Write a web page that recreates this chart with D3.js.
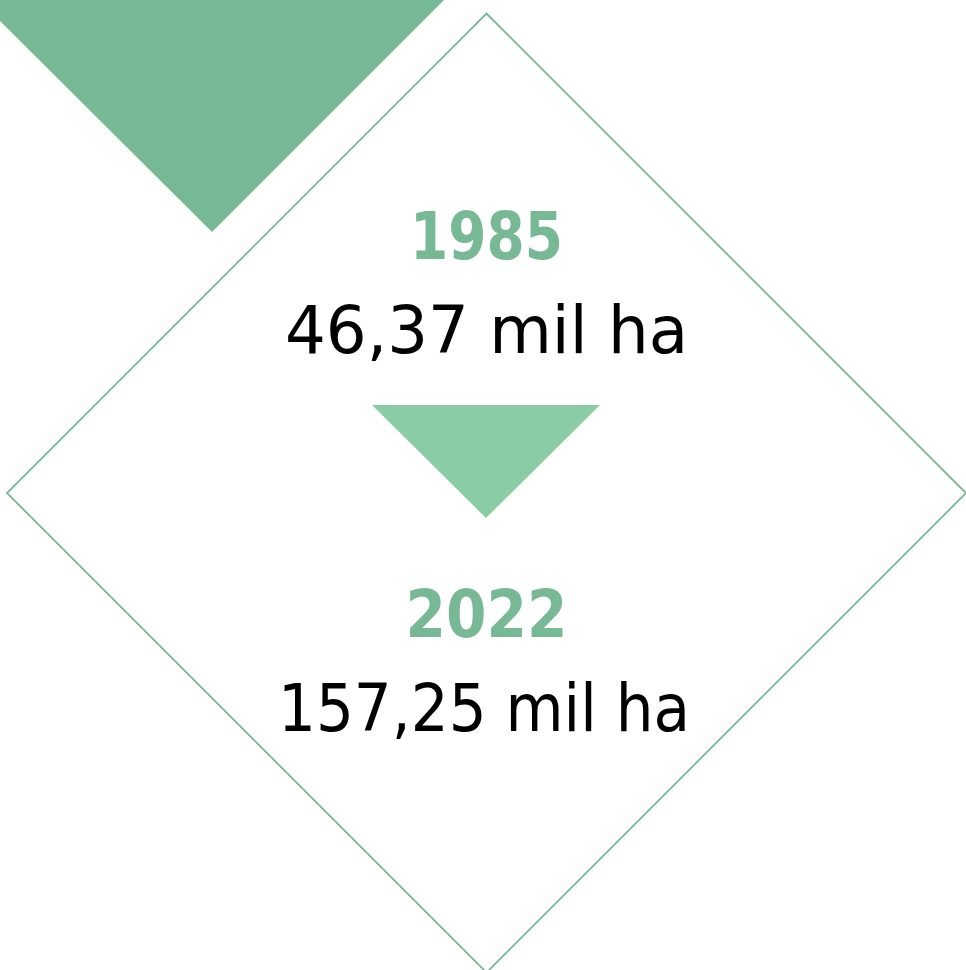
<!DOCTYPE html>
<html>
<head>
<meta charset="utf-8">
<script src="https://cdn.jsdelivr.net/npm/d3@7"></script>
<style>
  html, body { margin: 0; padding: 0; background: #fff; }
  svg { display: block; }
</style>
</head>
<body>
<div id="chart"></div>
<script>
// data
const years = ["1985", "2022"];
const areas = ["46,37", "157,25"];
const unit = "mil ha";

const W = 966, H = 970;
const GREEN = "#78b995";
const LIGHT_GREEN = "#8acca4";
// rendered widths in the original (Montserrat) so DejaVu gets fitted to them
const yearWidth = [153, 162];
const areaWidth = [403, 412];

const svg = d3.select("#chart")
    .append("svg")
    .attr("width", W)
    .attr("height", H);

// diamond outline
const cx = 486.5, cy = 493, r = 479.5;
svg.append("path")
    .attr("d", `M${cx},${cy - r}L${cx + r},${cy}L${cx},${cy + r}L${cx - r},${cy}Z`)
    .attr("fill", "none")
    .attr("stroke", GREEN)
    .attr("stroke-width", 1.8);

// big triangle top-left
svg.append("path")
    .attr("d", "M-22,-1L445,-1L212,232Z")
    .attr("fill", GREEN);

// arrow between the two years
svg.append("path")
    .attr("d", "M372,405L600,405L486,518Z")
    .attr("fill", LIGHT_GREEN);

// rows
const rowY = d3.scalePoint().domain(years).range([259, 637]);

const rows = svg.selectAll("g.row")
    .data(years.map((y, i) => ({ year: y, area: areas[i], i: i })))
    .enter()
    .append("g")
    .attr("class", "row")
    .attr("transform", d => `translate(${cx},${rowY(d.year)})`);

rows.append("text")
    .attr("text-anchor", "middle")
    .attr("font-family", "'DejaVu Sans', sans-serif")
    .attr("font-weight", "bold")
    .attr("font-size", 65)
    .attr("fill", GREEN)
    .attr("textLength", d => yearWidth[d.i])
    .attr("lengthAdjust", "spacingAndGlyphs")
    .text(d => d.year);

rows.append("text")
    .attr("text-anchor", "middle")
    .attr("x", d => (d.i ? -2.5 : 0))
    .attr("y", 94)
    .attr("font-family", "'DejaVu Sans', sans-serif")
    .attr("font-size", 65)
    .attr("fill", "#000")
    .attr("textLength", d => areaWidth[d.i])
    .attr("lengthAdjust", "spacingAndGlyphs")
    .text(d => `${d.area} ${unit}`);
</script>
</body>
</html>
